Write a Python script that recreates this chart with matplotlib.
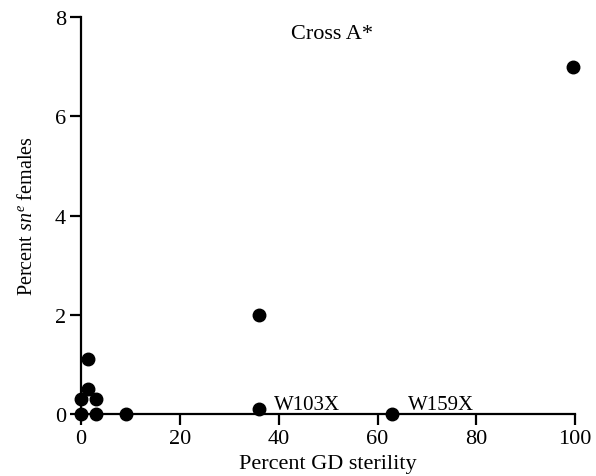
import matplotlib
matplotlib.use("Agg")
import matplotlib.pyplot as plt

gd_sterility = [0, 0, 1.5, 1.5, 3, 3, 9, 36, 36, 63, 99.5]
sn_females = [0, 0.3, 0.5, 1.1, 0.3, 0, 0, 2.0, 0.1, 0, 7.0]
x_ticks = [0, 20, 40, 60, 80, 100]
y_ticks = [0, 2, 4, 6, 8]
labels = {"W103X": (36, 0.1), "W159X": (63, 0)}

plt.rcParams["font.family"] = ["Liberation Serif", "DejaVu Serif"]
plt.rcParams["mathtext.fontset"] = "custom"
plt.rcParams["mathtext.it"] = "Liberation Serif:italic"
plt.rcParams["mathtext.rm"] = "Liberation Serif"

fig = plt.figure(figsize=(5.96, 4.77), dpi=100)
ax = fig.add_axes([0.136, 0.130, 0.829, 0.832])

ax.plot(gd_sterility, sn_females, "o", color="black", markersize=9, clip_on=False, zorder=3)

# strain labels sit on a common baseline just above the x axis
for name, (x, y) in labels.items():
    ax.annotate(name, xy=(x, 0.11), xytext=(11, 0), textcoords="offset points",
                fontsize=15, va="baseline", ha="left")

ax.text(50.8, 7.68, "Cross A*", fontsize=16, ha="center", va="center")

ax.set_xlim(0, 100)
ax.set_ylim(0, 8)
ax.set_xticks(x_ticks)
ax.set_yticks(y_ticks)
ax.spines["top"].set_visible(False)
ax.spines["right"].set_visible(False)
for s in ("left", "bottom"):
    ax.spines[s].set_linewidth(1.6)
ax.tick_params(direction="out", length=8, width=1.6, labelsize=16, pad=3)

ax.set_xlabel("Percent GD sterility", fontsize=16, labelpad=4)
ax.set_ylabel(r"Percent $\mathit{sn}^{\mathit{e}}$ females", fontsize=14.5, labelpad=13)

fig.savefig("out.png", dpi=100)
